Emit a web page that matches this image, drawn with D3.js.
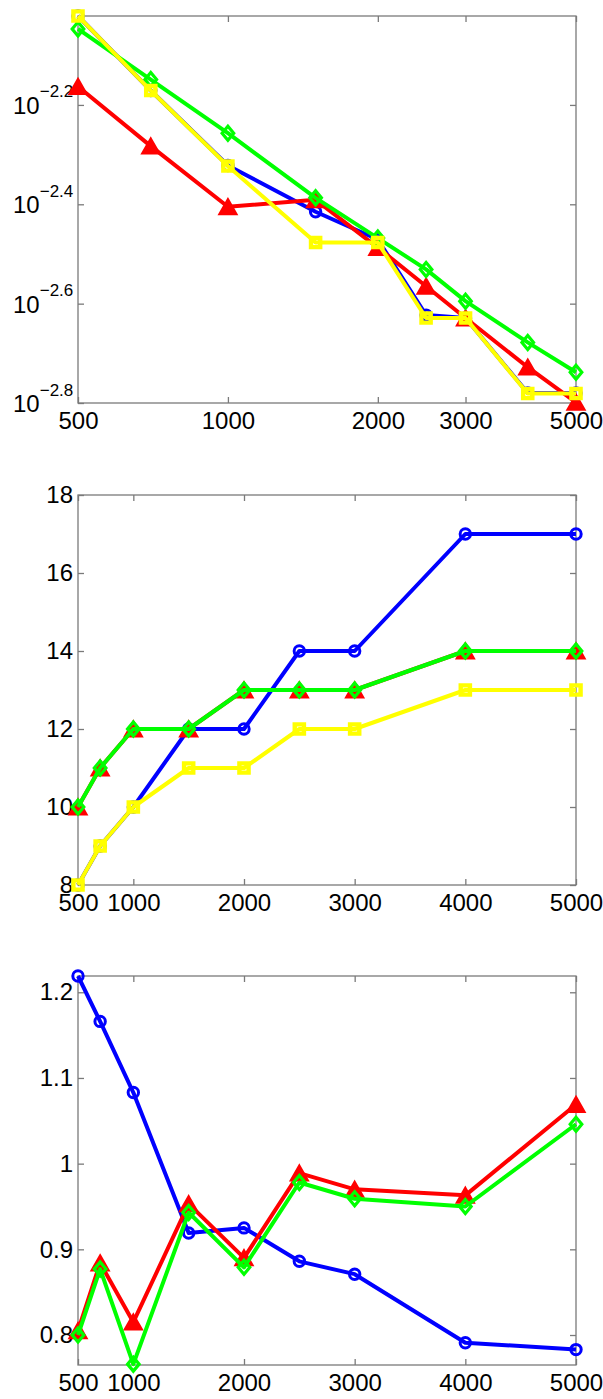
<!DOCTYPE html>
<html><head><meta charset="utf-8">
<script src="https://cdn.jsdelivr.net/npm/d3@7"></script>
<style>
html,body{margin:0;padding:0;background:#fff;}
svg text{font-family:"Liberation Sans",Arial,sans-serif;fill:#000;}
</style></head>
<body><svg id="c" width="603" height="1399"></svg>
<script>
// ---------- data ----------
const xValues = [500, 700, 1000, 1500, 2000, 2500, 3000, 4000, 5000];

// panel 1 (log-log)
const p1Blue   = [0.009528, 0.006745, 0.004764, 0.003846, 0.003381, 0.002382, 0.002350, 0.001660, 0.001660];
const p1Red    = [0.006871, 0.005212, 0.003936, 0.004064, 0.003258, 0.002723, 0.002350, 0.001871, 0.001589];
const p1Green  = [0.008974, 0.007096, 0.005534, 0.004102, 0.003404, 0.002944, 0.002541, 0.002099, 0.001828];
const p1Yellow = [0.009528, 0.006745, 0.004753, 0.003334, 0.003334, 0.002350, 0.002350, 0.001656, 0.001656];
const p1YLim = [0.001585, 0.009528];
const p1XTicks = [500, 1000, 2000, 3000, 5000];
const p1YTickExp = [-2.8, -2.6, -2.4, -2.2];
const p1YTickSup = ["\u22122.8", "\u22122.6", "\u22122.4", "\u22122.2"];

// panel 2
const p2Blue   = [8, 9, 10, 12, 12, 14, 14, 17, 17];
const p2Red    = [10, 11, 12, 12, 13, 13, 13, 14, 14];
const p2Green  = [10, 11, 12, 12, 13, 13, 13, 14, 14];
const p2Yellow = [8, 9, 10, 11, 11, 12, 12, 13, 13];
const p2YLim = [8, 18];
const p2YTicks = [8, 10, 12, 14, 16, 18];

// panel 3
const p3Blue  = [1.219, 1.166, 1.083, 0.919, 0.925, 0.886, 0.871, 0.791, 0.783];
const p3Red   = [0.805, 0.884, 0.815, 0.953, 0.890, 0.989, 0.970, 0.963, 1.069];
const p3Green = [0.800, 0.877, 0.766, 0.943, 0.879, 0.978, 0.959, 0.950, 1.046];
const p3YLim = [0.765, 1.219];
const p3YTicks = [0.8, 0.9, 1.0, 1.1, 1.2];
const p3YTickLabels = ["0.8", "0.9", "1", "1.1", "1.2"];

const linXTicks = [500, 1000, 2000, 3000, 4000, 5000];

// ---------- style ----------
const colors = {blue: "#0000ff", red: "#ff0000", green: "#00ff00", yellow: "#ffff00"};
const axisColor = "#7a7a7a";
const left = 78, right = 576;
const fontSize = 24;

// custom marker shapes
const triangleSym = { draw(ctx, s) { const w = 8, h = 7; ctx.moveTo(0, -h); ctx.lineTo(w, h); ctx.lineTo(-w, h); ctx.closePath(); } };
const diamondSym  = { draw(ctx, s) { const w = 5.8, h = 7; ctx.moveTo(0, -h); ctx.lineTo(w, 0); ctx.lineTo(0, h); ctx.lineTo(-w, 0); ctx.closePath(); } };
const squareSym   = { draw(ctx, s) { const a = 4.6; ctx.rect(-a, -a, 2 * a, 2 * a); } };
const circleSym   = { draw(ctx, s) { ctx.moveTo(5.2, 0); ctx.arc(0, 0, 5.2, 0, 2 * Math.PI); } };

const markerStyle = {
  blue:   {sym: circleSym,   fill: "none",      sw: 3},
  red:    {sym: triangleSym, fill: colors.red,  sw: 2.8},
  green:  {sym: diamondSym,  fill: "none",      sw: 3.2},
  yellow: {sym: squareSym,   fill: "none",      sw: 4.4}
};

const svg = d3.select("#c");

function drawPanel(cfg) {
  const g = svg.append("g");
  const x = cfg.x, y = cfg.y;
  const top = cfg.top, bottom = cfg.bottom;

  g.append("rect").attr("x", left).attr("y", top).attr("width", right - left).attr("height", bottom - top)
    .attr("fill", "none").attr("stroke", axisColor).attr("stroke-width", 1.3);

  const ax = d3.axisBottom(x).tickValues(cfg.xTicks).tickFormat(d3.format("d")).tickSizeInner(-6).tickSizeOuter(0).tickPadding(9);
  const gx = g.append("g").attr("transform", `translate(0,${bottom})`).call(ax);
  gx.select(".domain").remove();
  gx.selectAll("line").attr("stroke", axisColor).attr("stroke-width", 1.3);
  gx.selectAll("text").attr("font-size", fontSize).attr("fill", "#000").style("font-family", '"Liberation Sans",Arial,sans-serif');

  const axt = d3.axisTop(x).tickValues(cfg.xTicks).tickFormat("").tickSizeInner(-6).tickSizeOuter(0);
  const gxt = g.append("g").attr("transform", `translate(0,${top})`).call(axt);
  gxt.select(".domain").remove();
  gxt.selectAll("line").attr("stroke", axisColor).attr("stroke-width", 1.3);

  const ay = d3.axisLeft(y).tickValues(cfg.yTicks).tickSizeInner(-6).tickSizeOuter(0).tickPadding(5)
    .tickFormat(cfg.yFormat || "");
  const gy = g.append("g").attr("transform", `translate(${left},0)`).call(ay);
  gy.select(".domain").remove();
  gy.selectAll("line").attr("stroke", axisColor).attr("stroke-width", 1.3);
  gy.selectAll("text").attr("font-size", fontSize).attr("fill", "#000").style("font-family", '"Liberation Sans",Arial,sans-serif');

  const ayr = d3.axisRight(y).tickValues(cfg.yTicks).tickFormat("").tickSizeInner(-6).tickSizeOuter(0);
  const gyr = g.append("g").attr("transform", `translate(${right},0)`).call(ayr);
  gyr.select(".domain").remove();
  gyr.selectAll("line").attr("stroke", axisColor).attr("stroke-width", 1.3);

  if (cfg.logLabels) {
    cfg.logLabels.forEach((lab, i) => {
      const ty = y(cfg.yTicks[i]);
      const t = g.append("text").attr("x", 13).attr("y", ty + 9);
      t.append("tspan").attr("font-size", fontSize).text("10");
      t.append("tspan").attr("font-size", 17).attr("dy", -16.5).text(lab);
    });
  }

  const line = d3.line().x((d, i) => x(xValues[i])).y(d => y(d));
  cfg.series.forEach(s => {
    const col = colors[s.color];
    g.append("path").datum(s.values).attr("d", line).attr("fill", "none")
      .attr("stroke", col).attr("stroke-width", 4).attr("stroke-linejoin", "round");
    const ms = markerStyle[s.color];
    const sym = d3.symbol().type(ms.sym);
    g.selectAll(null).data(s.values).enter().append("path")
      .attr("d", sym)
      .attr("transform", (d, i) => `translate(${x(xValues[i])},${y(d)})`)
      .attr("fill", ms.fill === "none" ? "none" : col)
      .attr("stroke", col).attr("stroke-width", ms.sw).attr("stroke-linejoin", "miter");
  });
}

// panel 1
const x1 = d3.scaleLog().domain([500, 5000]).range([left, right]);
const y1 = d3.scaleLog().domain(p1YLim).range([403, 16]);
drawPanel({
  x: x1, y: y1, top: 16, bottom: 403, xTicks: p1XTicks,
  yTicks: p1YTickExp.map(e => Math.pow(10, e)), logLabels: p1YTickSup,
  series: [{color: "blue", values: p1Blue}, {color: "red", values: p1Red},
           {color: "green", values: p1Green}, {color: "yellow", values: p1Yellow}]
});

// panel 2
const x2 = d3.scaleLinear().domain([500, 5000]).range([left, right]);
const y2 = d3.scaleLinear().domain(p2YLim).range([885, 495]);
drawPanel({
  x: x2, y: y2, top: 495, bottom: 885, xTicks: linXTicks,
  yTicks: p2YTicks, yFormat: d3.format("d"),
  series: [{color: "blue", values: p2Blue}, {color: "red", values: p2Red},
           {color: "green", values: p2Green}, {color: "yellow", values: p2Yellow}]
});

// panel 3
const x3 = d3.scaleLinear().domain([500, 5000]).range([left, right]);
const y3 = d3.scaleLinear().domain(p3YLim).range([1365, 976]);
drawPanel({
  x: x3, y: y3, top: 976, bottom: 1365, xTicks: linXTicks,
  yTicks: p3YTicks, yFormat: (d, i) => p3YTickLabels[i],
  series: [{color: "blue", values: p3Blue}, {color: "red", values: p3Red},
           {color: "green", values: p3Green}]
});
</script></body></html>
